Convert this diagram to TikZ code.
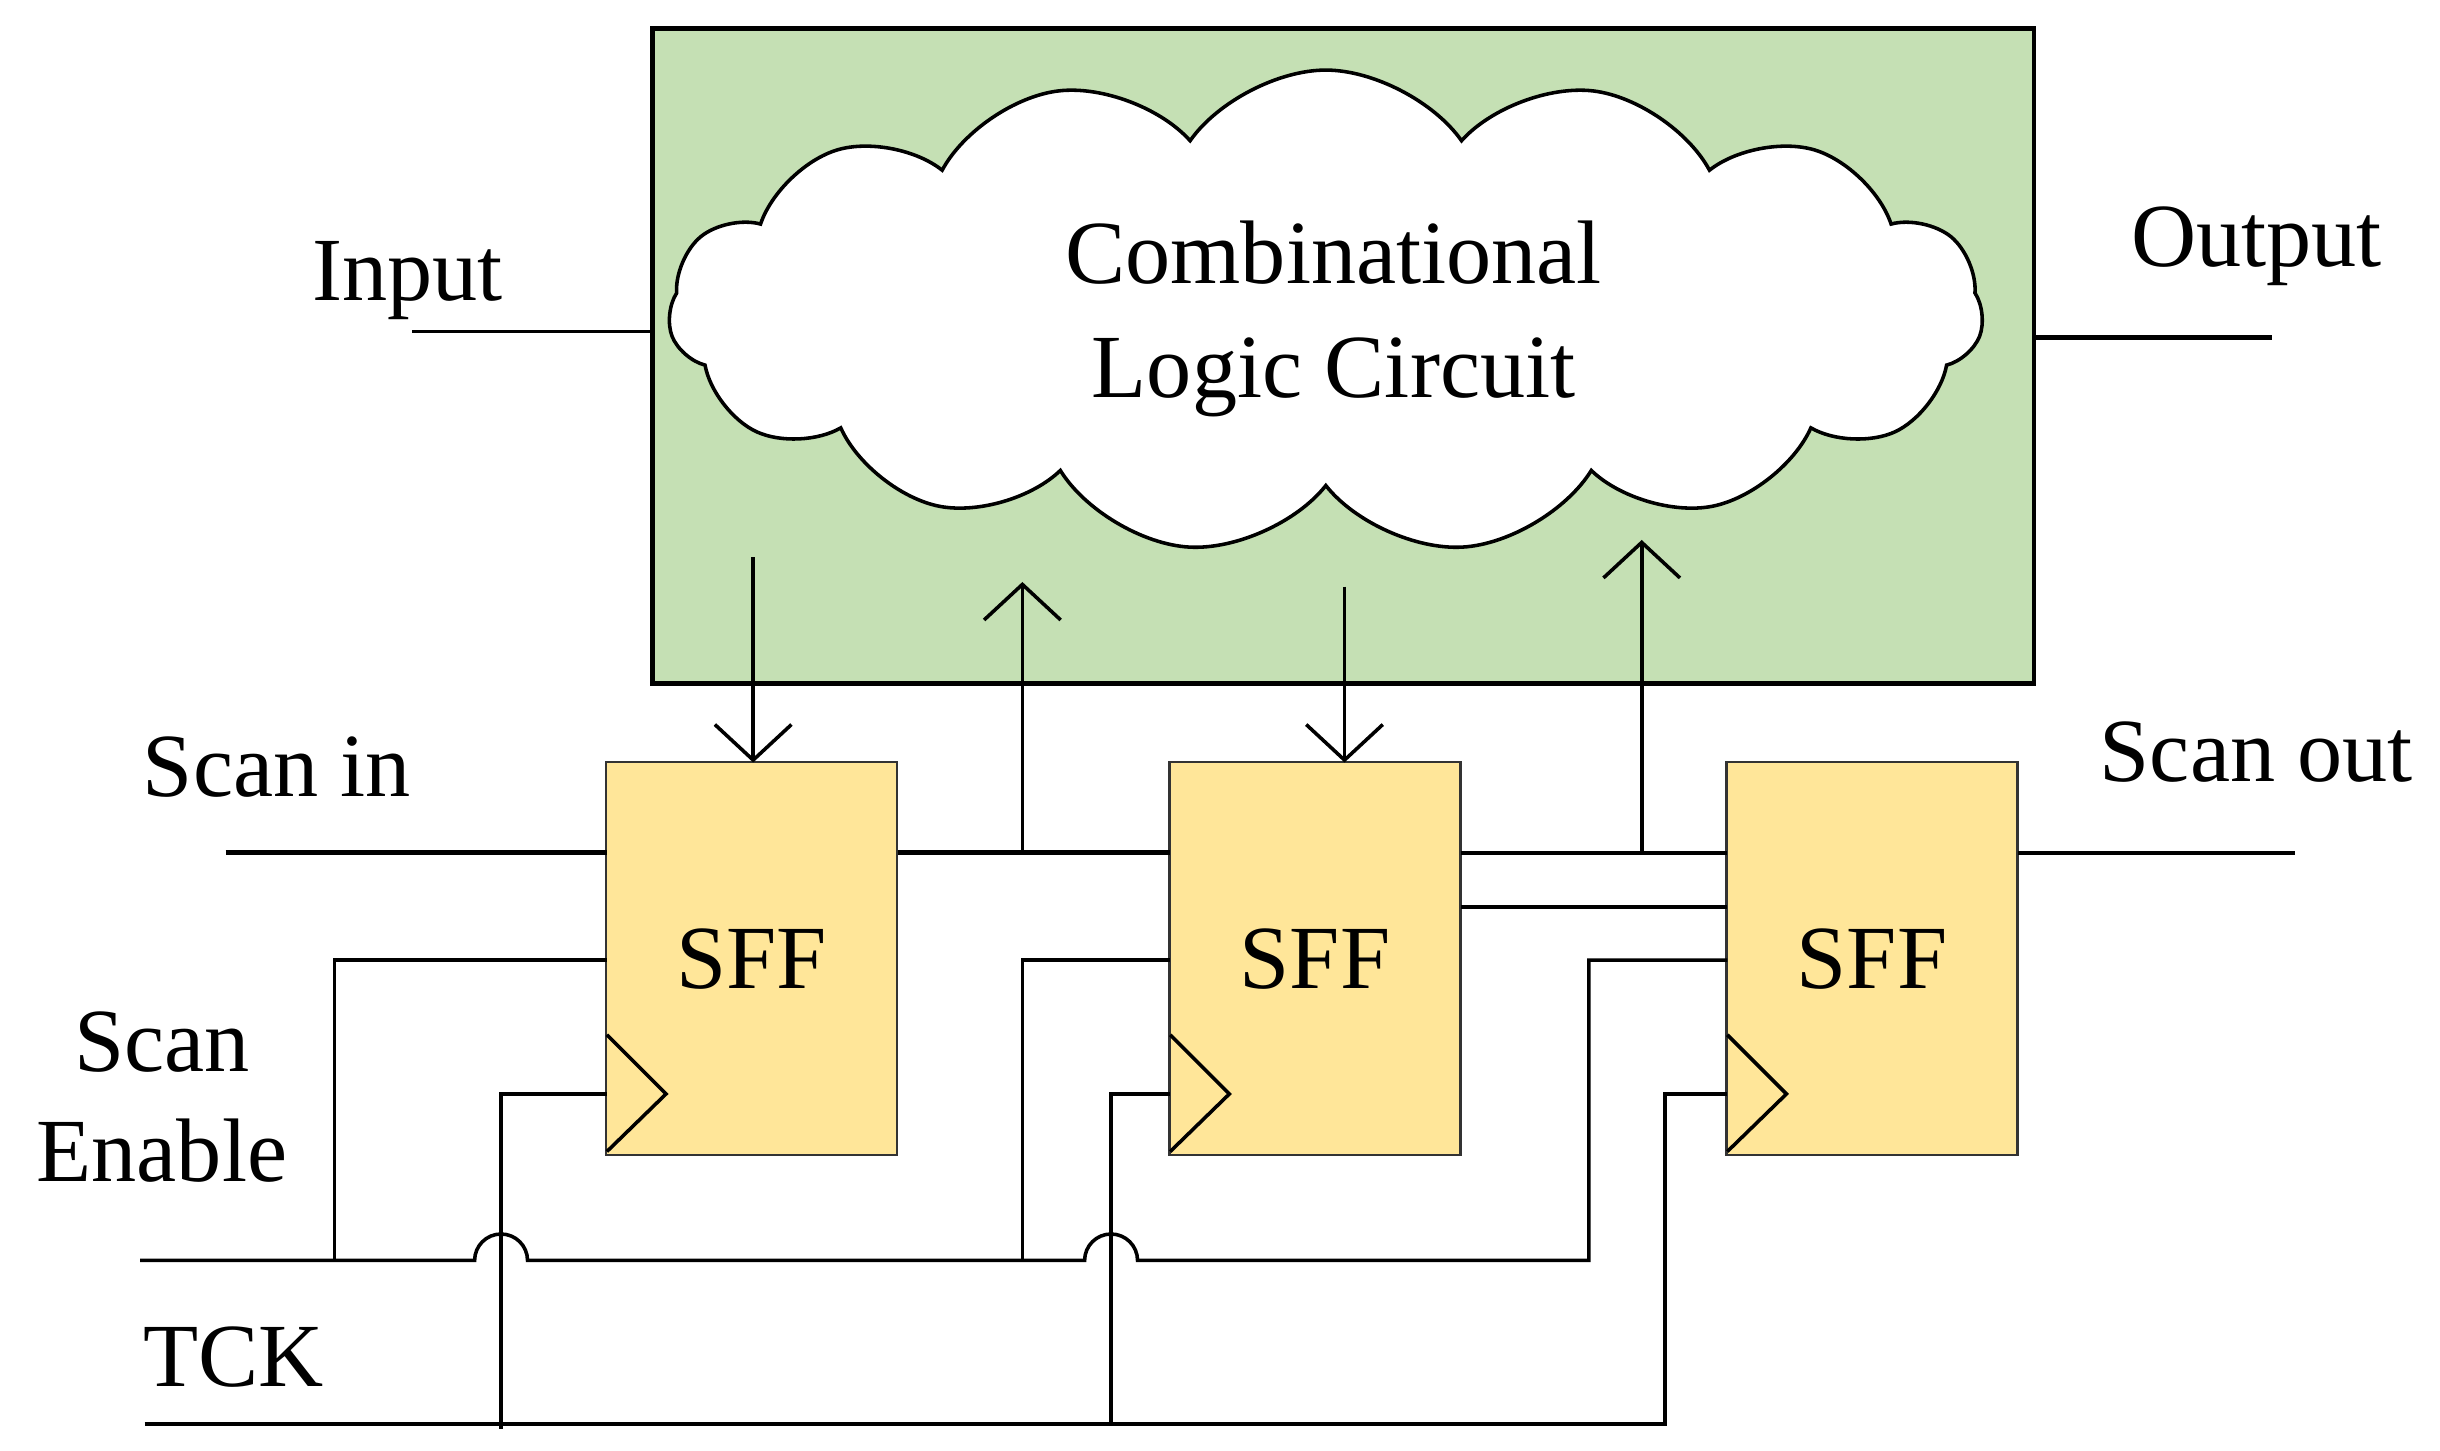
\documentclass[tikz,border=0pt]{standalone}
\usepackage{fontspec}
\setmainfont{Liberation Serif}
\usetikzlibrary{shapes.symbols,arrows.meta}
\definecolor{gbox}{HTML}{C5E0B4}
\definecolor{ybox}{HTML}{FFE699}
\begin{document}
\begin{tikzpicture}[x=0.02cm,y=-0.02cm,line width=1.3pt,
  lbl/.style={font=\fontsize{33}{38}\selectfont,align=center},
  sff/.style={draw=black!80,line width=0.8pt,fill=ybox,minimum width=3.74cm,minimum height=5.06cm,font=\fontsize{33}{38}\selectfont,text depth=0pt},
  tip/.style={-{Straight Barb[length=13pt,width=28pt,line width=1.3pt]}}]
\useasboundingbox (0,0) rectangle (1568,932);
\node[draw,line width=1.5pt,fill=gbox,minimum width=17.76cm,minimum height=8.42cm,anchor=north west] (box) at (418,17) {};
\node[cloud,cloud puffs=15,cloud puff arc=110,aspect=2.7,draw,fill=white,minimum width=16.9cm,minimum height=6.2cm,line width=1.3pt] (cloud) at (852,200) {};
\node[lbl,font=\fontsize{33}{42}\selectfont] (clt) at (857,205) {Combinational\\Logic Circuit};
\node[lbl] (inl) at (262,180) {Input};
\node[lbl] (outl) at (1450,158) {Output};
\node[lbl] (sil) at (178,493) {Scan in};
\node[lbl] (sol) at (1450,483) {Scan out};
\node[lbl,font=\fontsize{33}{40}\selectfont] (sel) at (104,705) {Scan\\Enable};
\node[lbl] (tck) at (150,872) {TCK};
\node[sff] (f1) at (483,616) {SFF};
\node[sff] (f2) at (845,616) {SFF};
\node[sff] (f3) at (1203,616) {SFF};
\foreach \f/\x in {f1/390,f2/752,f3/1110}{
  \draw[line width=1.3pt] (\x,665) -- (\x+38,703) -- (\x,740);
}
\coordinate (i0) at (265,213);
\draw (i0) -- (418,213);
\coordinate (o1) at (1460,217);
\draw[line width=2pt] (1306,217) -- (o1);
\coordinate (s0) at (145,548);
\draw[line width=2pt] (s0) -- (390,548);
\draw[line width=2pt] (577,548) -- (752,548);
\draw (939,548) -- (1110,548);
\draw (939,583) -- (1110,583);
\coordinate (s9) at (1475,548);
\draw (1297,548) -- (s9);
\draw[tip] (484,358) -- (484,490);
\draw[tip] (864,377) -- (864,490);
\draw[tip] (657,548) -- (657,374);
\draw[tip] (1055,548) -- (1055,347);
% scan enable
\draw (90,810) -- (305,810) arc[start angle=180,end angle=360,radius=17] -- (697,810) arc[start angle=180,end angle=360,radius=17] -- (1021,810) -- (1021,617) -- (1110,617);
\draw (215,810) -- (215,617) -- (390,617);
\draw (657,810) -- (657,617) -- (752,617);
% TCK
\draw (93,915) -- (1070,915) -- (1070,703) -- (1110,703);
\draw (322,918) -- (322,703) -- (390,703);
\draw (714,915) -- (714,703) -- (752,703);
\end{tikzpicture}
\end{document}
